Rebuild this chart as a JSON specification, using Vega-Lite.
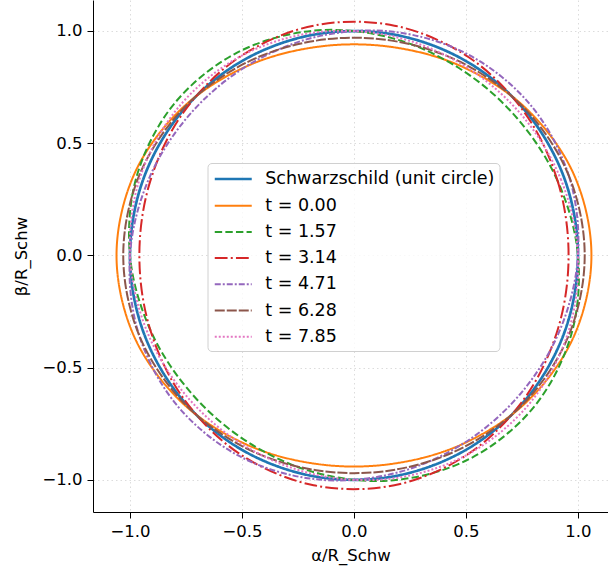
{
  "$schema": "https://vega.github.io/schema/vega-lite/v6.json",
  "width": 515,
  "height": 512,
  "autosize": {"type": "none"},
  "padding": {"left": 93, "top": 0, "right": 0, "bottom": 62},
  "background": "white",
  "config": {
    "view": {"stroke": null},
    "font": "DejaVu Sans",
    "axis": {
      "labelFont": "DejaVu Sans", "labelFontSize": 16.5, "labelColor": "black",
      "tickColor": "black", "tickSize": 6, "tickWidth": 1,
      "domainColor": "black", "domainWidth": 1, "labelPadding": 5,
      "titleFont": "DejaVu Sans", "titleFontSize": 16.5, "titleFontWeight": "normal", "titleColor": "black",
      "grid": true, "gridColor": "#dcdcdc", "gridDash": [1.5, 3], "gridWidth": 1
    }
  },
  "data": {"values": [
    {"s":"Schwarzschild (unit circle)","i":0,"x":1,"y":0},
    {"s":"Schwarzschild (unit circle)","i":1,"x":0.9397,"y":0.342},
    {"s":"Schwarzschild (unit circle)","i":2,"x":0.766,"y":0.6428},
    {"s":"Schwarzschild (unit circle)","i":3,"x":0.5,"y":0.866},
    {"s":"Schwarzschild (unit circle)","i":4,"x":0.1736,"y":0.9848},
    {"s":"Schwarzschild (unit circle)","i":5,"x":-0.1736,"y":0.9848},
    {"s":"Schwarzschild (unit circle)","i":6,"x":-0.5,"y":0.866},
    {"s":"Schwarzschild (unit circle)","i":7,"x":-0.766,"y":0.6428},
    {"s":"Schwarzschild (unit circle)","i":8,"x":-0.9397,"y":0.342},
    {"s":"Schwarzschild (unit circle)","i":9,"x":-1,"y":0},
    {"s":"Schwarzschild (unit circle)","i":10,"x":-0.9397,"y":-0.342},
    {"s":"Schwarzschild (unit circle)","i":11,"x":-0.766,"y":-0.6428},
    {"s":"Schwarzschild (unit circle)","i":12,"x":-0.5,"y":-0.866},
    {"s":"Schwarzschild (unit circle)","i":13,"x":-0.1736,"y":-0.9848},
    {"s":"Schwarzschild (unit circle)","i":14,"x":0.1736,"y":-0.9848},
    {"s":"Schwarzschild (unit circle)","i":15,"x":0.5,"y":-0.866},
    {"s":"Schwarzschild (unit circle)","i":16,"x":0.766,"y":-0.6428},
    {"s":"Schwarzschild (unit circle)","i":17,"x":0.9397,"y":-0.342},

    {"s":"t = 0.00","i":0,"x":1.06,"y":0},
    {"s":"t = 0.00","i":1,"x":0.9829,"y":0.3577},
    {"s":"t = 0.00","i":2,"x":0.774,"y":0.6495},
    {"s":"t = 0.00","i":3,"x":0.485,"y":0.84},
    {"s":"t = 0.00","i":4,"x":0.1638,"y":0.9293},
    {"s":"t = 0.00","i":5,"x":-0.1638,"y":0.9293},
    {"s":"t = 0.00","i":6,"x":-0.485,"y":0.84},
    {"s":"t = 0.00","i":7,"x":-0.774,"y":0.6495},
    {"s":"t = 0.00","i":8,"x":-0.9829,"y":0.3577},
    {"s":"t = 0.00","i":9,"x":-1.06,"y":0},
    {"s":"t = 0.00","i":10,"x":-0.9829,"y":-0.3577},
    {"s":"t = 0.00","i":11,"x":-0.774,"y":-0.6495},
    {"s":"t = 0.00","i":12,"x":-0.485,"y":-0.84},
    {"s":"t = 0.00","i":13,"x":-0.1638,"y":-0.9293},
    {"s":"t = 0.00","i":14,"x":0.1638,"y":-0.9293},
    {"s":"t = 0.00","i":15,"x":0.485,"y":-0.84},
    {"s":"t = 0.00","i":16,"x":0.774,"y":-0.6495},
    {"s":"t = 0.00","i":17,"x":0.9829,"y":-0.3577},

    {"s":"t = 1.57","i":0,"x":1,"y":0},
    {"s":"t = 1.57","i":1,"x":0.9095,"y":0.331},
    {"s":"t = 1.57","i":2,"x":0.7283,"y":0.6112},
    {"s":"t = 1.57","i":3,"x":0.4784,"y":0.8285},
    {"s":"t = 1.57","i":4,"x":0.1706,"y":0.968},
    {"s":"t = 1.57","i":5,"x":-0.1766,"y":1.0016},
    {"s":"t = 1.57","i":6,"x":-0.5217,"y":0.9035},
    {"s":"t = 1.57","i":7,"x":-0.8037,"y":0.6744},
    {"s":"t = 1.57","i":8,"x":-0.9699,"y":0.353},
    {"s":"t = 1.57","i":9,"x":-1,"y":0},
    {"s":"t = 1.57","i":10,"x":-0.9095,"y":-0.331},
    {"s":"t = 1.57","i":11,"x":-0.7283,"y":-0.6112},
    {"s":"t = 1.57","i":12,"x":-0.4784,"y":-0.8285},
    {"s":"t = 1.57","i":13,"x":-0.1706,"y":-0.968},
    {"s":"t = 1.57","i":14,"x":0.1766,"y":-1.0016},
    {"s":"t = 1.57","i":15,"x":0.5217,"y":-0.9035},
    {"s":"t = 1.57","i":16,"x":0.8037,"y":-0.6744},
    {"s":"t = 1.57","i":17,"x":0.9699,"y":-0.353},

    {"s":"t = 3.14","i":0,"x":0.958,"y":0},
    {"s":"t = 3.14","i":1,"x":0.9094,"y":0.331},
    {"s":"t = 3.14","i":2,"x":0.7604,"y":0.6381},
    {"s":"t = 3.14","i":3,"x":0.5105,"y":0.8842},
    {"s":"t = 3.14","i":4,"x":0.1805,"y":1.0237},
    {"s":"t = 3.14","i":5,"x":-0.1805,"y":1.0237},
    {"s":"t = 3.14","i":6,"x":-0.5105,"y":0.8842},
    {"s":"t = 3.14","i":7,"x":-0.7604,"y":0.6381},
    {"s":"t = 3.14","i":8,"x":-0.9094,"y":0.331},
    {"s":"t = 3.14","i":9,"x":-0.958,"y":0},
    {"s":"t = 3.14","i":10,"x":-0.9094,"y":-0.331},
    {"s":"t = 3.14","i":11,"x":-0.7604,"y":-0.6381},
    {"s":"t = 3.14","i":12,"x":-0.5105,"y":-0.8842},
    {"s":"t = 3.14","i":13,"x":-0.1805,"y":-1.0237},
    {"s":"t = 3.14","i":14,"x":0.1805,"y":-1.0237},
    {"s":"t = 3.14","i":15,"x":0.5105,"y":-0.8842},
    {"s":"t = 3.14","i":16,"x":0.7604,"y":-0.6381},
    {"s":"t = 3.14","i":17,"x":0.9094,"y":-0.331},

    {"s":"t = 4.71","i":0,"x":1,"y":0},
    {"s":"t = 4.71","i":1,"x":0.9608,"y":0.3497},
    {"s":"t = 4.71","i":2,"x":0.7924,"y":0.665},
    {"s":"t = 4.71","i":3,"x":0.5152,"y":0.8922},
    {"s":"t = 4.71","i":4,"x":0.1757,"y":0.9966},
    {"s":"t = 4.71","i":5,"x":-0.1715,"y":0.973},
    {"s":"t = 4.71","i":6,"x":-0.4849,"y":0.8398},
    {"s":"t = 4.71","i":7,"x":-0.7396,"y":0.6206},
    {"s":"t = 4.71","i":8,"x":-0.9186,"y":0.3343},
    {"s":"t = 4.71","i":9,"x":-1,"y":0},
    {"s":"t = 4.71","i":10,"x":-0.9608,"y":-0.3497},
    {"s":"t = 4.71","i":11,"x":-0.7924,"y":-0.665},
    {"s":"t = 4.71","i":12,"x":-0.5152,"y":-0.8922},
    {"s":"t = 4.71","i":13,"x":-0.1757,"y":-0.9966},
    {"s":"t = 4.71","i":14,"x":0.1715,"y":-0.973},
    {"s":"t = 4.71","i":15,"x":0.4849,"y":-0.8398},
    {"s":"t = 4.71","i":16,"x":0.7396,"y":-0.6206},
    {"s":"t = 4.71","i":17,"x":0.9186,"y":-0.3343},

    {"s":"t = 6.28","i":0,"x":1.03,"y":0},
    {"s":"t = 6.28","i":1,"x":0.9613,"y":0.3499},
    {"s":"t = 6.28","i":2,"x":0.77,"y":0.6461},
    {"s":"t = 6.28","i":3,"x":0.4925,"y":0.853},
    {"s":"t = 6.28","i":4,"x":0.1687,"y":0.957},
    {"s":"t = 6.28","i":5,"x":-0.1687,"y":0.957},
    {"s":"t = 6.28","i":6,"x":-0.4925,"y":0.853},
    {"s":"t = 6.28","i":7,"x":-0.77,"y":0.6461},
    {"s":"t = 6.28","i":8,"x":-0.9613,"y":0.3499},
    {"s":"t = 6.28","i":9,"x":-1.03,"y":0},
    {"s":"t = 6.28","i":10,"x":-0.9613,"y":-0.3499},
    {"s":"t = 6.28","i":11,"x":-0.77,"y":-0.6461},
    {"s":"t = 6.28","i":12,"x":-0.4925,"y":-0.853},
    {"s":"t = 6.28","i":13,"x":-0.1687,"y":-0.957},
    {"s":"t = 6.28","i":14,"x":0.1687,"y":-0.957},
    {"s":"t = 6.28","i":15,"x":0.4925,"y":-0.853},
    {"s":"t = 6.28","i":16,"x":0.77,"y":-0.6461},
    {"s":"t = 6.28","i":17,"x":0.9613,"y":-0.3499},

    {"s":"t = 7.85","i":0,"x":1,"y":0},
    {"s":"t = 7.85","i":1,"x":0.9246,"y":0.3365},
    {"s":"t = 7.85","i":2,"x":0.7472,"y":0.627},
    {"s":"t = 7.85","i":3,"x":0.4892,"y":0.8472},
    {"s":"t = 7.85","i":4,"x":0.1721,"y":0.9763},
    {"s":"t = 7.85","i":5,"x":-0.1751,"y":0.9933},
    {"s":"t = 7.85","i":6,"x":-0.5109,"y":0.8848},
    {"s":"t = 7.85","i":7,"x":-0.7848,"y":0.6586},
    {"s":"t = 7.85","i":8,"x":-0.9548,"y":0.3475},
    {"s":"t = 7.85","i":9,"x":-1,"y":0},
    {"s":"t = 7.85","i":10,"x":-0.9246,"y":-0.3365},
    {"s":"t = 7.85","i":11,"x":-0.7472,"y":-0.627},
    {"s":"t = 7.85","i":12,"x":-0.4892,"y":-0.8472},
    {"s":"t = 7.85","i":13,"x":-0.1721,"y":-0.9763},
    {"s":"t = 7.85","i":14,"x":0.1751,"y":-0.9933},
    {"s":"t = 7.85","i":15,"x":0.5109,"y":-0.8848},
    {"s":"t = 7.85","i":16,"x":0.7848,"y":-0.6586},
    {"s":"t = 7.85","i":17,"x":0.9548,"y":-0.3475}
  ]},
  "mark": {"type": "line", "interpolate": "cardinal-closed", "clip": true},
  "encoding": {
    "x": {"field": "x", "type": "quantitative",
      "scale": {"domain": [-1.165, 1.134], "nice": false, "zero": false},
      "axis": {"values": [-1, -0.5, 0, 0.5, 1], "format": ".1f", "title": "α/R_Schw", "titlePadding": 8}},
    "y": {"field": "y", "type": "quantitative",
      "scale": {"domain": [-1.143, 1.138], "nice": false, "zero": false},
      "axis": {"values": [-1, -0.5, 0, 0.5, 1], "format": ".1f", "title": "β/R_Schw", "titlePadding": 12}},
    "order": {"field": "i", "type": "quantitative"},
    "color": {"field": "s", "type": "nominal",
      "scale": {"domain": ["Schwarzschild (unit circle)", "t = 0.00", "t = 1.57", "t = 3.14", "t = 4.71", "t = 6.28", "t = 7.85"],
        "range": ["#1f77b4", "#ff7f0e", "#2ca02c", "#d62728", "#9467bd", "#8c564b", "#e377c2"]},
      "legend": {"title": null, "orient": "none", "legendX": 114.5, "legendY": 163,
        "fillColor": "rgba(255,255,255,0.8)", "strokeColor": "#d0d0d0", "cornerRadius": 4, "padding": 5,
        "labelFont": "DejaVu Sans", "labelFontSize": 17.5, "labelColor": "black", "labelLimit": 400,
        "symbolType": "M-2,0H2", "symbolSize": 342, "symbolOffset": 9.75, "labelOffset": 21, "rowPadding": 7.2}},
    "strokeDash": {"field": "s", "type": "nominal",
      "scale": {"domain": ["Schwarzschild (unit circle)", "t = 0.00", "t = 1.57", "t = 3.14", "t = 4.71", "t = 6.28", "t = 7.85"],
        "range": [[1, 0], [1, 0], [7.4, 3.2], [12.8, 3.2, 2, 3.2], [6, 2, 2, 2], [10, 2], [2, 2]]}},
    "strokeWidth": {"field": "s", "type": "nominal",
      "scale": {"type": "ordinal", "domain": ["Schwarzschild (unit circle)", "t = 0.00", "t = 1.57", "t = 3.14", "t = 4.71", "t = 6.28", "t = 7.85"],
        "range": [2.7, 2, 2, 2, 2, 2, 2]}}
  }
}
